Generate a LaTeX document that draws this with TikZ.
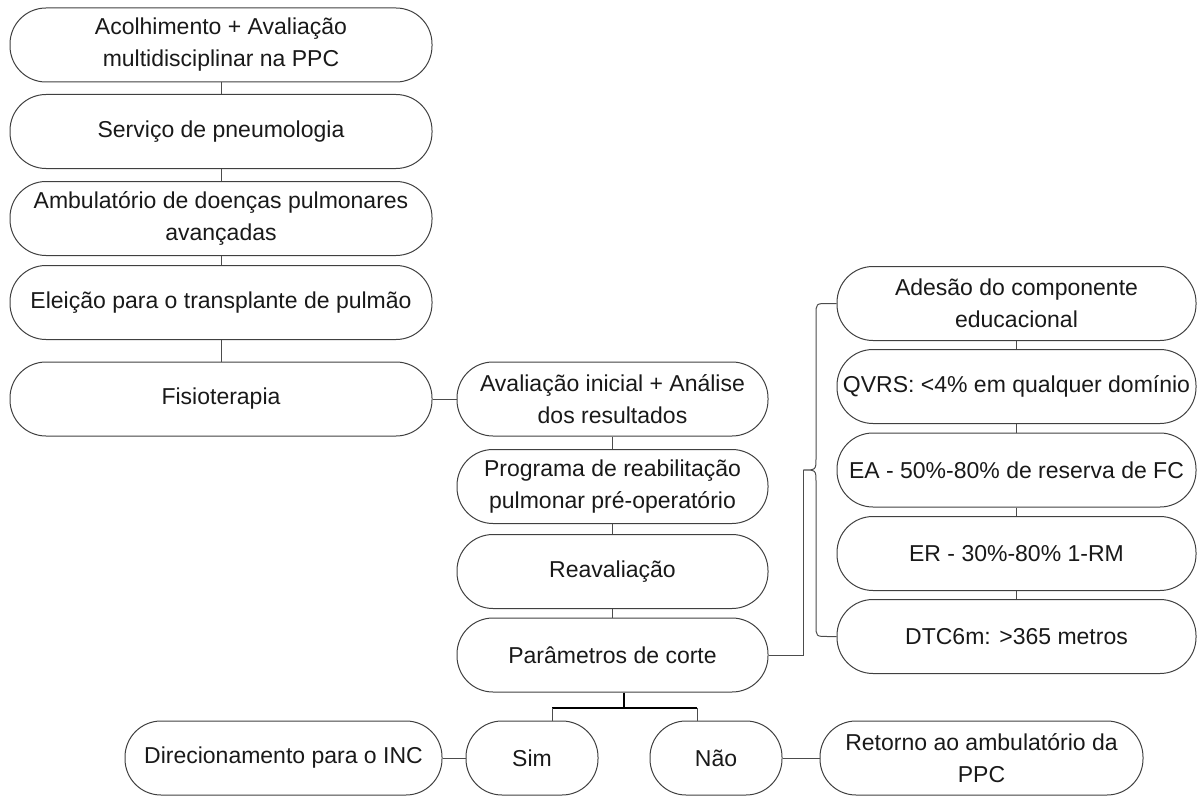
\documentclass[tikz,border=0pt]{standalone}
\usepackage{fontspec}
\setmainfont{Liberation Sans}

\begin{document}
\begin{tikzpicture}[x=1pt, y=-1pt, line width=1pt,
	etapa/.style={draw=black!75, rounded corners=36pt, minimum height=74pt, inner sep=0pt, align=center, text=black!90, font=\fontsize{23}{32}\selectfont},
	liga/.style={draw=black!70, line width=1pt},
	garfo/.style={draw=black, line width=2.5pt}]
	\useasboundingbox (0,0) rectangle (1199,797);
	% coluna da esquerda
	\node[etapa, minimum width=422pt] (acolh) at (221,45) {Acolhimento + Avaliação\\multidisciplinar na PPC};
	\node[etapa, minimum width=422pt] (pneumo) at (221,131.5) {Serviço de pneumologia};
	\node[etapa, minimum width=422pt] (ambul) at (221,218.5) {Ambulatório de doenças pulmonares\\avançadas};
	\node[etapa, minimum width=422pt] (eleicao) at (221,302.5) {Eleição para o transplante de pulmão};
	\node[etapa, minimum width=422pt] (fisio) at (221,399) {Fisioterapia};
	% coluna do meio
	\node[etapa, minimum width=311pt] (avalia) at (612.5,399) {Avaliação inicial + Análise\\dos resultados};
	\node[etapa, minimum width=311pt] (programa) at (612.5,486.5) {Programa de reabilitação\\pulmonar pré-operatório};
	\node[etapa, minimum width=311pt] (reavalia) at (612.5,571.5) {Reavaliação};
	\node[etapa, minimum width=311pt] (param) at (612.5,655) {Parâmetros de corte};
	% coluna da direita
	\node[etapa, minimum width=359pt] (adesao) at (1016.5,303.5) {Adesão do componente\\educacional};
	\node[etapa, minimum width=359pt] (qvrs) at (1016.5,386.5) {QVRS: <4\% em qualquer domínio};
	\node[etapa, minimum width=359pt] (ea) at (1016.5,470) {EA - 50\%-80\% de reserva de FC};
	\node[etapa, minimum width=359pt] (er) at (1016.5,553.5) {ER - 30\%-80\% 1-RM};
	\node[etapa, minimum width=359pt] (dtc) at (1016.5,636.5) {DTC6m: >365 metros};
	% linha de baixo
	\node[etapa, minimum width=317pt] (direc) at (283.5,758) {Direcionamento para o INC};
	\node[etapa, minimum width=132pt] (sim) at (532,758) {Sim};
	\node[etapa, minimum width=132pt] (nao) at (716,758) {Não};
	\node[etapa, minimum width=323pt] (retorno) at (981.5,758) {Retorno ao ambulatório da\\PPC};
	% ligações
	\draw[liga] (acolh) -- (pneumo);
	\draw[liga] (pneumo) -- (ambul);
	\draw[liga] (ambul) -- (eleicao);
	\draw[liga] (eleicao) -- (fisio);
	\draw[liga] (fisio) -- (avalia);
	\draw[liga] (avalia) -- (programa);
	\draw[liga] (programa) -- (reavalia);
	\draw[liga] (reavalia) -- (param);
	\draw[liga] (adesao) -- (qvrs);
	\draw[liga] (qvrs) -- (ea);
	\draw[liga] (ea) -- (er);
	\draw[liga] (er) -- (dtc);
	\draw[liga] (direc) -- (sim);
	\draw[liga] (nao) -- (retorno);
	% chave dos parâmetros
	\coordinate (bico) at (803,470);
	\draw[liga] (adesao.west) -- (828,303.5) .. controls (816,303.5) .. (816,315)
		-- (816,458) .. controls (816,470) .. (bico)
		.. controls (816,470) .. (816,482) -- (816,625)
		.. controls (816,636.5) .. (828,636.5) -- (dtc.west);
	\draw[liga] (param.east) -| (bico);
	% sim / não
	\coordinate (tronco) at (624,708);
	\coordinate (garfoE) at (552,708);
	\coordinate (garfoD) at (697,708);
	\draw[garfo] (tronco |- param.south) -- (tronco);
	\draw[garfo] (garfoE) -- (garfoD);
	\draw[liga] (garfoE) -- (garfoE |- sim.north);
	\draw[liga] (garfoD) -- (garfoD |- nao.north);
\end{tikzpicture}
\end{document}
